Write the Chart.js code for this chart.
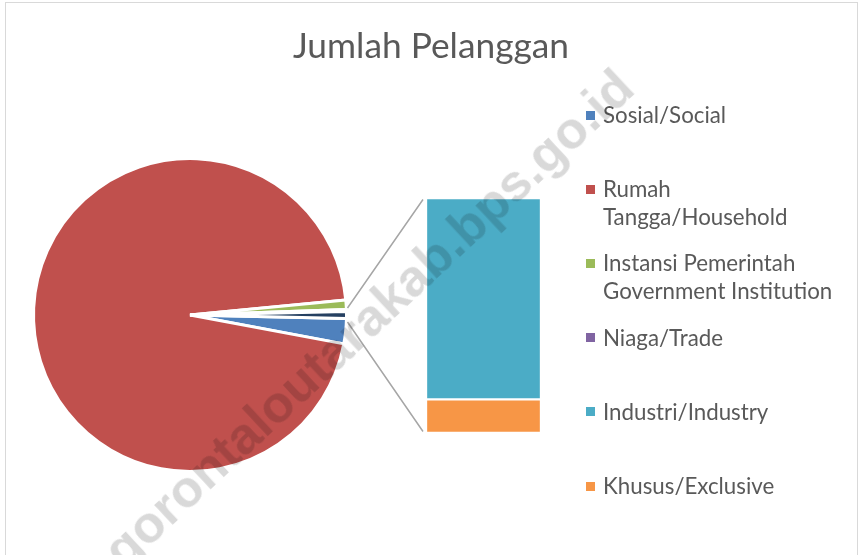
<!DOCTYPE html>
<html>
<head>
<meta charset="utf-8">
<script src="https://cdn.jsdelivr.net/npm/chart.js@4.4.1/dist/chart.umd.min.js"></script>
<style>
  body { margin: 0; background: #fff; }
  #frame { position: absolute; left: 0; top: 0; width: 860px; height: 555px; overflow: hidden; background: #fff; }
  #border { position: absolute; left: 5px; top: 2px; width: 853px; height: 620px; box-sizing: border-box; border: 1px solid #d9d9d9; }
  #title { position: absolute; left: 0; width: 862px; top: 23px; text-align: center; font-family: Lato, sans-serif; font-size: 35.3px; color: #595959; z-index: 3; }
  #pieChart { position: absolute; left: 0; top: 0; z-index: 1; }
  #barChart { position: absolute; left: 426px; top: 198px; z-index: 2; }
  .lg-mark { position: absolute; width: 9px; height: 9px; z-index: 3; }
  .lg-text { position: absolute; width: 245px; font-family: Lato, sans-serif; font-size: 22.3px; line-height: 28px; color: #595959; z-index: 3; }
  #watermark { position: absolute; left: 368px; top: 318px; transform: translate(-50%, -50%) rotate(-43deg); white-space: nowrap;
    font-family: "Liberation Sans", Arial, sans-serif; font-weight: bold; font-size: 52px; color: rgba(0,0,0,0.15); z-index: 5; pointer-events: none; }
</style>
</head>
<body>
<div id="frame">
  <div id="border"></div>
  <div id="title">Jumlah Pelanggan</div>
  <canvas id="pieChart" width="860" height="555"></canvas>
  <canvas id="barChart" width="115" height="235"></canvas>
  <div id="legend"></div>
  <div id="watermark">gorontaloutarakab.bps.go.id</div>
</div>
<script>
// Data
const categories = ['Sosial/Social', 'Rumah Tangga/Household', 'Instansi Pemerintah Government Institution',
  'Niaga/Trade', 'Industri/Industry', 'Khusus/Exclusive'];
const customers = [260, 9540, 97, 20, 60, 10];
const colors = ['#4F81BD', '#C0504D', '#9BBB59', '#8064A2', '#4BACC6', '#F79646'];
const otherLabel = 'Lainnya/Other';
const otherColor = '#254061';
const pieCount = 4; // the last two categories go into the bar

const pieValues = customers.slice(0, pieCount);
const barLabels = categories.slice(pieCount);
const barValues = customers.slice(pieCount);
const otherValue = barValues.reduce((a, b) => a + b, 0);
const total = pieValues.reduce((a, b) => a + b, 0) + otherValue;

// Bar: stacked, first category on top
const barChart = new Chart(document.getElementById('barChart'), {
  type: 'bar',
  data: {
    labels: [otherLabel],
    datasets: barLabels.map((lab, i) => ({
      label: lab,
      data: [barValues[i]],
      backgroundColor: colors[pieCount + i],
      borderColor: '#ffffff',
      borderWidth: 1.5,
      borderSkipped: false,
      barPercentage: 1,
      categoryPercentage: 1
    })).reverse()
  },
  options: {
    responsive: false,
    animation: false,
    layout: { padding: 0 },
    plugins: { legend: { display: false }, tooltip: { enabled: false } },
    scales: {
      x: { display: false, stacked: true },
      y: { display: false, stacked: true, min: 0, max: otherValue }
    }
  }
});

// Connector lines from the "other" slice to the bar
const connectors = {
  id: 'connectors',
  afterDraw(chart) {
    const arc = chart.getDatasetMeta(0).data[pieCount];
    const bars = barChart.data.datasets.map((d, i) => barChart.getDatasetMeta(i).data[0]);
    const canvas = barChart.canvas;
    const offX = canvas.offsetLeft, offY = canvas.offsetTop;
    const topBar = bars[bars.length - 1], bottomBar = bars[0];
    const left = offX + topBar.x - topBar.width / 2 - 3;
    const top = offY + topBar.y + 1.5;
    const bottom = offY + bottomBar.base - 1.5;
    const sx = arc.x + arc.outerRadius + 1;
    const ctx = chart.ctx;
    ctx.save();
    ctx.strokeStyle = '#a6a6a6';
    ctx.lineWidth = 1.5;
    ctx.beginPath();
    ctx.moveTo(sx, arc.y - 7);
    ctx.lineTo(left, top);
    ctx.moveTo(sx, arc.y + 7);
    ctx.lineTo(left, bottom);
    ctx.stroke();
    ctx.restore();
  }
};

new Chart(document.getElementById('pieChart'), {
  type: 'pie',
  data: {
    labels: categories.slice(0, pieCount).concat([otherLabel]),
    datasets: [{
      data: pieValues.concat([otherValue]),
      backgroundColor: colors.slice(0, pieCount).concat([otherColor]),
      borderColor: '#ffffff',
      borderWidth: 3
    }]
  },
  options: {
    responsive: false,
    animation: false,
    rotation: 90 + otherValue / total * 180,
    layout: { padding: { left: 32, top: 157, right: 512, bottom: 82 } },
    plugins: { legend: { display: false }, tooltip: { enabled: false } }
  },
  plugins: [connectors]
});

// Legend
const legend = document.getElementById('legend');
categories.forEach((name, i) => {
  const y = 115 + i * 74.2;
  const mark = document.createElement('div');
  mark.className = 'lg-mark';
  mark.style.left = '586px';
  mark.style.top = (y - 4.5) + 'px';
  mark.style.background = colors[i];
  const text = document.createElement('div');
  text.className = 'lg-text';
  text.style.left = '603px';
  text.style.top = (y - 14) + 'px';
  text.textContent = name;
  legend.appendChild(mark);
  legend.appendChild(text);
});
</script>
</body>
</html>
